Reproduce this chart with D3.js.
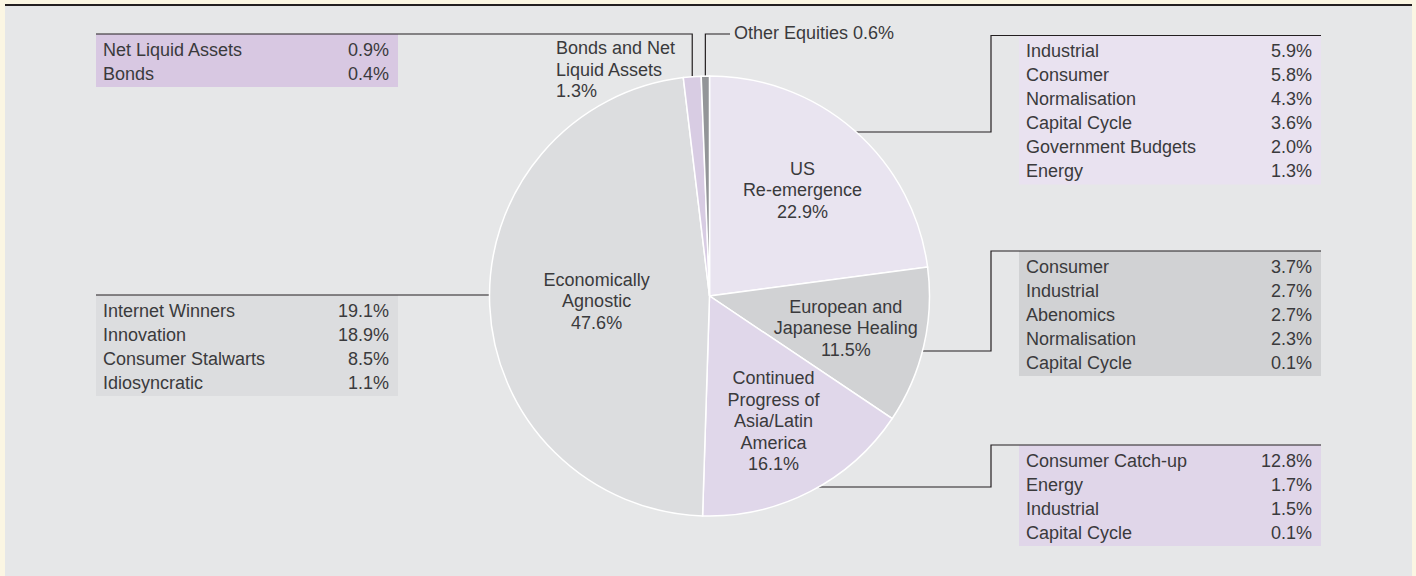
<!DOCTYPE html>
<html>
<head>
<meta charset="utf-8">
<script src="https://cdn.jsdelivr.net/npm/d3@7"></script>
<style>
  body { margin: 0; background: #fbf6e3; }
  svg { display: block; }
  text { font-family: "Liberation Sans", Arial, sans-serif; font-size: 18px; fill: #3a3a3c; }
</style>
</head>
<body>
<svg id="chart"></svg>
<script>
// data
var themes = ["US Re-emergence", "European and Japanese Healing", "Continued Progress of Asia/Latin America",
              "Economically Agnostic", "Bonds and Net Liquid Assets", "Other Equities"];
var themeValues = [22.9, 11.5, 16.1, 47.6, 1.3, 0.6];
var themeLines = [["US", "Re-emergence"], ["European and", "Japanese Healing"],
                  ["Continued", "Progress of", "Asia/Latin", "America"], ["Economically", "Agnostic"],
                  ["Bonds and Net", "Liquid Assets"], ["Other Equities"]];

var usNames = ["Industrial", "Consumer", "Normalisation", "Capital Cycle", "Government Budgets", "Energy"];
var usValues = [5.9, 5.8, 4.3, 3.6, 2.0, 1.3];
var euNames = ["Consumer", "Industrial", "Abenomics", "Normalisation", "Capital Cycle"];
var euValues = [3.7, 2.7, 2.7, 2.3, 0.1];
var asiaNames = ["Consumer Catch-up", "Energy", "Industrial", "Capital Cycle"];
var asiaValues = [12.8, 1.7, 1.5, 0.1];
var agnosticNames = ["Internet Winners", "Innovation", "Consumer Stalwarts", "Idiosyncratic"];
var agnosticValues = [19.1, 18.9, 8.5, 1.1];
var bondsNames = ["Net Liquid Assets", "Bonds"];
var bondsValues = [0.9, 0.4];

//layout
var width = 1416, height = 576;
var cx = 709.5, cy = 296, radius = 220;
var sliceColors = ["#e9e4f0", "#d1d2d4", "#e0d7ea", "#dcdddf", "#d8cce3", "#939598"];
var labelRadius = [141, 140, 140, 113];
var lineH = 21.5, rowH = 24;
var fmt = function(v) { return d3.format(".1f")(v) + "%"; };

var svg = d3.select("#chart").attr("width", width).attr("height", height);

// panel
svg.append("rect").attr("x", 5).attr("y", 5).attr("width", 1407).attr("height", 571).attr("fill", "#e6e7e8");
svg.append("line").attr("x1", 5).attr("x2", 1412).attr("y1", 5).attr("y2", 5)
  .attr("stroke", "#231f20").attr("stroke-width", 2);

var g = svg.append("g");

// tables: names, values, fill, left x, top y
var tables = [
  {names: bondsNames, values: bondsValues, fill: "#d8c8e2", x: 96, top: 34},
  {names: usNames, values: usValues, fill: "#e9e2f0", x: 1019, top: 35.5},
  {names: euNames, values: euValues, fill: "#d1d2d4", x: 1019, top: 251},
  {names: asiaNames, values: asiaValues, fill: "#e0d6e9", x: 1019, top: 445},
  {names: agnosticNames, values: agnosticValues, fill: "#dcdddf", x: 96, top: 295}
];
var tableW = 302;

tables.forEach(function(t) {
  var n = t.names.length;
  var tg = g.append("g").attr("transform", "translate(" + t.x + "," + t.top + ")");
  tg.append("rect").attr("x", 0).attr("y", 0).attr("width", tableW).attr("height", n * rowH + 5).attr("fill", t.fill);
  var rows = tg.selectAll("g.row").data(d3.range(n)).enter().append("g")
    .attr("transform", function(i) { return "translate(0," + (21.5 + i * rowH) + ")"; });
  rows.append("text").attr("x", 7).text(function(i) { return t.names[i]; });
  rows.append("text").attr("x", tableW - 9).attr("text-anchor", "end").text(function(i) { return fmt(t.values[i]); });
});

// connectors
var line = d3.line();
var conn = "#231f20";
function edgePoint(angle) {
  return [cx + radius * Math.sin(angle), cy - radius * Math.cos(angle)];
}
function edgeXAtY(y, side) {
  var dy = y - cy;
  return cx + side * Math.sqrt(radius * radius - dy * dy);
}

var pie = d3.pie().sort(null).value(function(d) { return d; });
var arcs = pie(themeValues);
var mid = arcs.map(function(a) { return (a.startAngle + a.endAngle) / 2; });

var connectors = [
  [[edgeXAtY(132, 1), 132], [991, 132], [991, 35.5], [1321, 35.5]],
  [[edgeXAtY(351, 1), 351], [991, 351], [991, 251], [1321, 251]],
  [[edgeXAtY(487, 1), 487], [991, 487], [991, 445], [1321, 445]],
  [[edgeXAtY(295, -1), 295], [96, 295]],
  [edgePoint(mid[4]), [edgePoint(mid[4])[0], 34], [96, 34]],
  [edgePoint(mid[5]), [edgePoint(mid[5])[0], 34], [730, 34]]
];
g.selectAll("path.conn").data(connectors).enter().append("path")
  .attr("class", "conn")
  .attr("d", line).attr("fill", "none").attr("stroke", conn).attr("stroke-width", 1.2);

// pie
var arc = d3.arc().innerRadius(0).outerRadius(radius);
var pg = g.append("g").attr("transform", "translate(" + cx + "," + cy + ")");
pg.selectAll("path").data(arcs).enter().append("path")
  .attr("d", arc)
  .attr("fill", function(d, i) { return sliceColors[i]; })
  .attr("stroke", "#ffffff").attr("stroke-width", 1.5);

// inside labels
arcs.slice(0, 4).forEach(function(a, i) {
  var c = d3.arc().innerRadius(labelRadius[i]).outerRadius(labelRadius[i]).centroid(a);
  var lines = themeLines[i].concat([fmt(themeValues[i])]);
  var first = c[1] - (13 + (lines.length - 1) * lineH) / 2 + 13;
  var t = pg.append("text").attr("text-anchor", "middle");
  lines.forEach(function(s, k) {
    t.append("tspan").attr("x", c[0]).attr("y", first + k * lineH).text(s);
  });
});

// outside labels
var bl = themeLines[4].concat([fmt(themeValues[4])]);
var bt = g.append("text");
bl.forEach(function(s, k) {
  bt.append("tspan").attr("x", 556).attr("y", 54 + k * lineH).text(s);
});
g.append("text").attr("x", 734).attr("y", 39).text(themeLines[5][0] + " " + fmt(themeValues[5]));
</script>
</body>
</html>
